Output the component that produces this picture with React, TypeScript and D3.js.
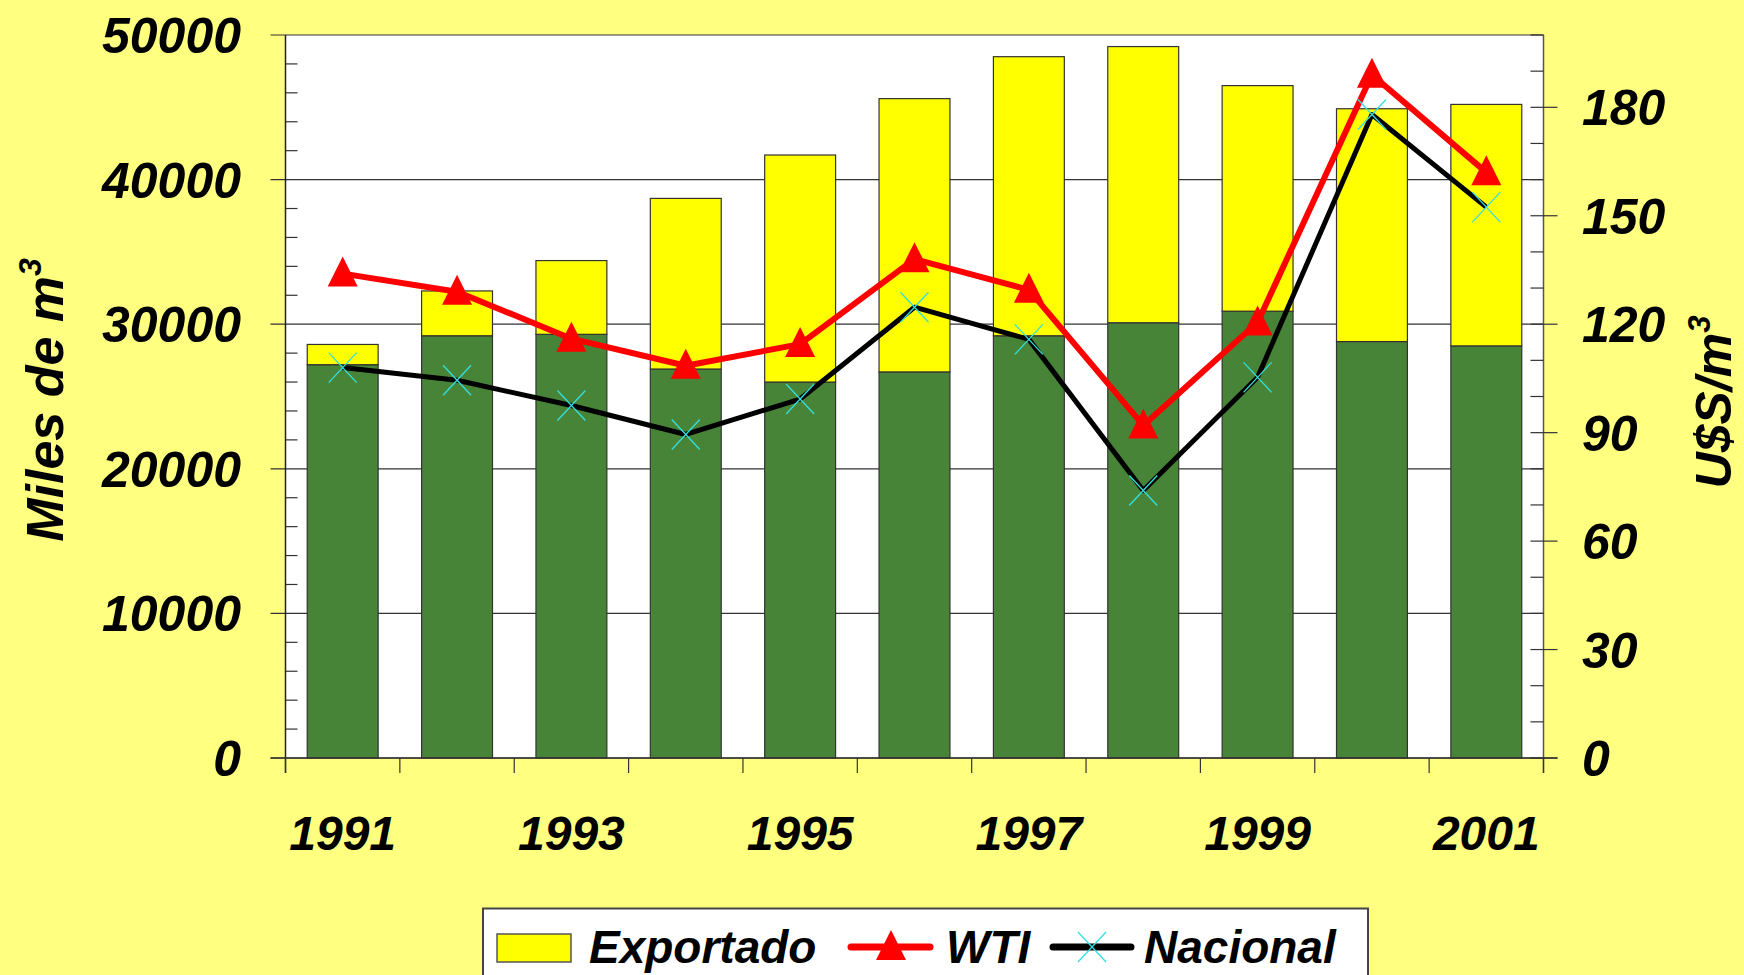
import React, { useEffect } from 'react';
import * as d3 from 'd3';

const years = ['1991', '1992', '1993', '1994', '1995', '1996', '1997', '1998', '1999', '2000', '2001'];
// green part of the bars (no legend entry in the original)
const interno = [27200, 29200, 29300, 26900, 26000, 26700, 29200, 30100, 30900, 28800, 28500];
const exportado = [1400, 3100, 5100, 11800, 15700, 18900, 19300, 19100, 15600, 16100, 16700];
const wti = [134, 129, 116, 108.5, 114.5, 138, 129.5, 92, 120.5, 189, 162];
const nacional = [108, 104.5, 97.5, 89.5, 99.3, 124.7, 115.8, 74, 105.3, 178, 152.4];
const leftTicks = [0, 10000, 20000, 30000, 40000, 50000];
const rightTicks = [0, 30, 60, 90, 120, 150, 180];
const xLabels = ['1991', '1993', '1995', '1997', '1999', '2001'];

const W = 1744;
const H = 975;
const margin = { top: 35, right: 200.5, bottom: 217, left: 285.5 };
const font = '"Liberation Sans", Arial, sans-serif';
const bg = '#FFFF80';
const green = '#488437';

export default function App() {
  useEffect(() => {
    document.body.style.margin = '0';
    document.body.style.overflow = 'hidden';
  }, []);

  const x0 = margin.left;
  const x1 = W - margin.right;
  const y0 = H - margin.bottom;
  const y1 = margin.top;

  const x = d3.scaleBand().domain(years).range([x0, x1]).paddingInner(0.38).paddingOuter(0.19);
  const yL = d3.scaleLinear().domain([0, 50000]).range([y0, y1]);
  const yR = d3.scaleLinear().domain([0, 200]).range([y0, y1]);
  const cx = (d: string) => (x(d) as number) + x.bandwidth() / 2;

  const wtiLine = d3.line<number>().x((_, i) => cx(years[i])).y((d) => yR(d));
  const nacLine = d3.line<number>().x((_, i) => cx(years[i])).y((d) => yR(d));

  const minorL = d3.range(0, 50001, 2000).filter((v) => v % 10000 !== 0);
  const minorR = d3.range(0, 201, 10).filter((v) => v % 30 !== 0);
  const bounds = years.map((d) => x(d) as number - (x.step() - x.bandwidth()) / 2).concat([x1]);

  const tri = 'M0,-17L15,13L-15,13Z';
  const cross = 'M-14,-15L14,15M-14,15L14,-15';

  const txt = { fontFamily: font, fontWeight: 'bold' as const, fontStyle: 'italic' as const, fill: '#000' };

  return (
    <svg width={W} height={H} style={{ position: 'absolute', left: 0, top: 0, display: 'block' }}>
      <rect x={0} y={0} width={W} height={H} fill={bg} />
      <rect x={x0} y={y1} width={x1 - x0} height={y0 - y1} fill="#fff" />

      {/* gridlines */}
      {leftTicks.map((t) => (
        <line key={'g' + t} x1={x0 - 15} x2={x1} y1={yL(t)} y2={yL(t)} stroke="#333" strokeWidth={1.2} />
      ))}
      {minorL.map((t) => (
        <line key={'ml' + t} x1={x0} x2={x0 + 12} y1={yL(t)} y2={yL(t)} stroke="#333" strokeWidth={1.2} />
      ))}

      {/* bars */}
      {years.map((d, i) => (
        <g key={d}>
          <rect x={x(d)} y={yL(interno[i])} width={x.bandwidth()} height={yL(0) - yL(interno[i])}
            fill={green} stroke="#333" strokeWidth={1.2} />
          <rect x={x(d)} y={yL(interno[i] + exportado[i])} width={x.bandwidth()}
            height={yL(interno[i]) - yL(interno[i] + exportado[i])} fill="#FFFF00" stroke="#333" strokeWidth={1.2} />
        </g>
      ))}

      {/* axes lines */}
      <line x1={x0} x2={x0} y1={y1} y2={y0 + 15} stroke="#222" strokeWidth={1.5} />
      <line x1={x1} x2={x1} y1={y1} y2={y0 + 15} stroke="#555" strokeWidth={1.5} />
      <line x1={x0 - 15} x2={x1 + 14} y1={y0} y2={y0} stroke="#333" strokeWidth={1.5} />
      {bounds.map((b, i) => (
        <line key={'xt' + i} x1={b} x2={b} y1={y0} y2={y0 + 15} stroke="#333" strokeWidth={1.2} />
      ))}
      {rightTicks.map((t) => (
        <line key={'rt' + t} x1={x1 - 13} x2={x1 + 14} y1={yR(t)} y2={yR(t)} stroke="#333" strokeWidth={1.2} />
      ))}
      {minorR.map((t) => (
        <line key={'mr' + t} x1={x1 - 13} x2={x1} y1={yR(t)} y2={yR(t)} stroke="#333" strokeWidth={1.2} />
      ))}

      {/* lines */}
      <path d={wtiLine(wti) || ''} fill="none" stroke="#FF0000" strokeWidth={6} strokeLinejoin="round" />
      {wti.map((v, i) => (
        <path key={'w' + i} d={tri} transform={`translate(${cx(years[i])},${yR(v)})`} fill="#FF0000" />
      ))}
      <path d={nacLine(nacional) || ''} fill="none" stroke="#000" strokeWidth={5} strokeLinejoin="round" />
      {nacional.map((v, i) => (
        <path key={'n' + i} d={cross} transform={`translate(${cx(years[i])},${yR(v)})`} stroke="#33E0E0" strokeWidth={1.3} fill="none" />
      ))}

      {/* tick labels */}
      {leftTicks.map((t) => (
        <text key={'lt' + t} x={241} y={yL(t) + 18} textAnchor="end" fontSize={50} style={txt}>{t}</text>
      ))}
      {rightTicks.map((t) => (
        <text key={'rl' + t} x={1582} y={yR(t) + 18} textAnchor="start" fontSize={50} style={txt}>{t}</text>
      ))}
      {xLabels.map((d) => (
        <text key={'xl' + d} x={cx(d)} y={850} textAnchor="middle" fontSize={48} style={txt}>{d}</text>
      ))}

      {/* axis titles */}
      <text transform={`translate(63,400) rotate(-90)`} textAnchor="middle" fontSize={52} style={txt}>
        Miles de m<tspan fontSize={32} dy={-22}>3</tspan>
      </text>
      <text transform={`translate(1731,402) rotate(-90)`} textAnchor="middle" fontSize={50} style={txt}>
        U$S/m<tspan fontSize={31} dy={-21}>3</tspan>
      </text>

      {/* legend */}
      <g>
        <rect x={483} y={908.5} width={885} height={80} fill="#fff" stroke="#444" strokeWidth={2} />
        <rect x={497} y={934} width={74} height={28} fill="#FFFF00" stroke="#555" strokeWidth={1.5} />
        <text x={589} y={963} fontSize={46} style={txt}>Exportado</text>
        <line x1={851} x2={930} y1={947} y2={947} stroke="#FF0000" strokeWidth={7} strokeLinecap="round" />
        <path d={tri} transform="translate(891,947)" fill="#FF0000" />
        <text x={946} y={963} fontSize={46} style={txt}>WTI</text>
        <line x1={1053} x2={1131} y1={947} y2={947} stroke="#000" strokeWidth={7} strokeLinecap="round" />
        <path d={cross} transform="translate(1092,947)" stroke="#33E0E0" strokeWidth={1.3} fill="none" />
        <text x={1144} y={963} fontSize={46} style={txt}>Nacional</text>
      </g>
    </svg>
  );
}
